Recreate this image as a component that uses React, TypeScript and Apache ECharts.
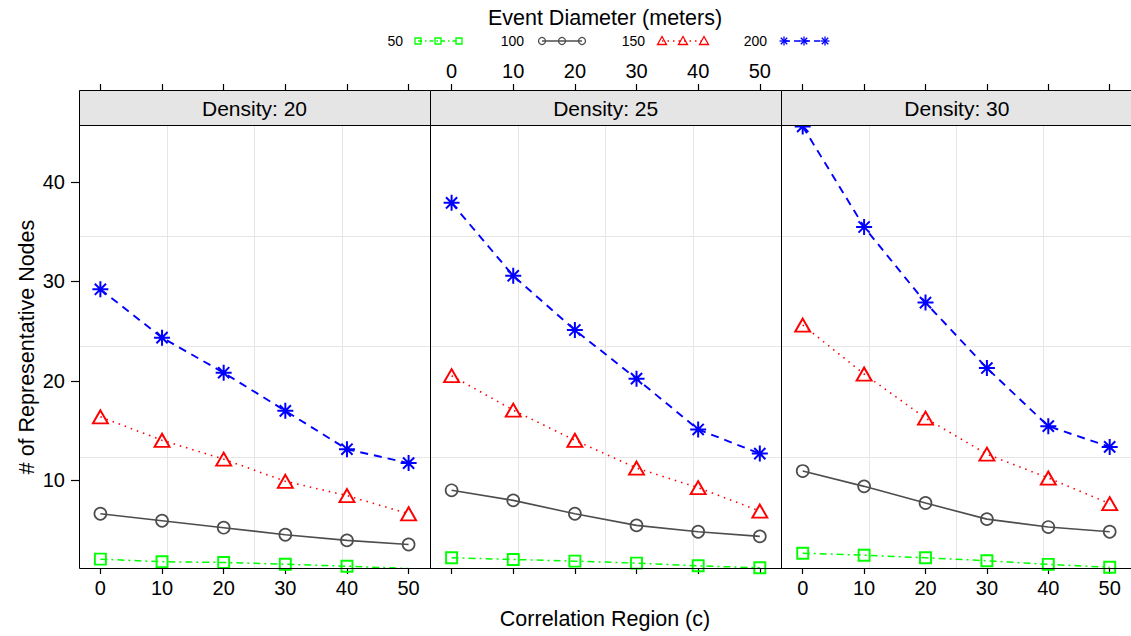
import React, { useEffect, useRef } from "react";
import * as echarts from "echarts";

// ---------- data ----------
const categories = [0, 10, 20, 30, 40, 50];
const yTicks = [10, 20, 30, 40];
const panelLabels = ["Density: 20", "Density: 25", "Density: 30"];
const seriesNames = ["50", "100", "150", "200"];

const d20_50 = [2.03, 1.77, 1.7, 1.52, 1.32, 1.09];
const d20_100 = [6.6, 5.9, 5.2, 4.49, 3.92, 3.51];
const d20_150 = [16.36, 14.0, 12.1, 9.87, 8.43, 6.6];
const d20_200 = [29.2, 24.33, 20.8, 16.96, 13.1, 11.7];

const d25_50 = [2.17, 2.0, 1.83, 1.63, 1.36, 1.16];
const d25_100 = [8.96, 7.95, 6.6, 5.43, 4.79, 4.32];
const d25_150 = [20.5, 17.03, 14.0, 11.2, 9.23, 6.87];
const d25_200 = [37.9, 30.56, 25.1, 20.2, 15.09, 12.66];

const d30_50 = [2.63, 2.43, 2.17, 1.87, 1.5, 1.22];
const d30_100 = [10.9, 9.36, 7.68, 6.06, 5.26, 4.79];
const d30_150 = [25.6, 20.67, 16.23, 12.6, 10.2, 7.62];
const d30_200 = [45.6, 35.47, 27.86, 21.27, 15.42, 13.33];

const panelData = [
  [d20_50, d20_100, d20_150, d20_200],
  [d25_50, d25_100, d25_150, d25_200],
  [d30_50, d30_100, d30_150, d30_200],
];

// ---------- styles / layout ----------
const FONT = "'Liberation Sans', Arial, Helvetica, sans-serif";
const XMIN = -3.47;
const XMAX = 53.47;
const YMIN = 1.14;
const YMAX = 45.74;
const PANEL_LEFT = 79;
const PANEL_W = 351.2;
const PANEL_TOP = 125;
const PANEL_H = 443;
const STRIP_H = 35;

const ASTER = "path://M0,5L10,5M5,0L5,10M1.5,1.5L8.5,8.5M8.5,1.5L1.5,8.5";

const styles = [
  { color: "#00ff00", symbol: "rect", size: 11, dash: [7, 4, 2, 4], width: 1.5, bw: 1.9 },
  { color: "#4d4d4d", symbol: "circle", size: 12, dash: "solid", width: 1.6, bw: 1.7 },
  { color: "#ff0000", symbol: "triangle", size: [15, 13], dash: [1.5, 5], width: 1.6, bw: 1.9 },
  { color: "#0000ff", symbol: ASTER, size: 16, dash: [8, 6], width: 1.9, bw: 2 },
];

function legendGraphics() {
  const items = [
    { tx: 403, sym: [418, 438, 459] },
    { tx: 524, sym: [542, 562, 582] },
    { tx: 645, sym: [662, 683, 704] },
    { tx: 767, sym: [784, 804, 825] },
  ];
  const ly = 41;
  const dashes: any[] = [[4, 3, 1.5, 3], null, [1.5, 4], [6, 4]];
  const els: any[] = [];
  items.forEach((it, j) => {
    const st = styles[j];
    els.push({
      type: "text",
      x: it.tx,
      y: ly,
      style: { text: seriesNames[j], fontSize: 14, fontFamily: FONT, fill: "#000", align: "right", verticalAlign: "middle" },
    });
    els.push({
      type: "line",
      shape: { x1: it.sym[0], y1: ly, x2: it.sym[2], y2: ly },
      style: { stroke: st.color, lineWidth: 1.3, lineDash: dashes[j] || undefined },
    });
    it.sym.forEach((sx) => {
      if (j === 0) {
        els.push({ type: "rect", shape: { x: sx - 3, y: ly - 3, width: 6, height: 6 }, style: { fill: "none", stroke: st.color, lineWidth: 1.3 } });
      } else if (j === 1) {
        els.push({ type: "circle", shape: { cx: sx, cy: ly, r: 3.5 }, style: { fill: "none", stroke: st.color, lineWidth: 1.3 } });
      } else if (j === 2) {
        els.push({ type: "polygon", shape: { points: [[sx, ly - 4.5], [sx + 4.5, ly + 3.5], [sx - 4.5, ly + 3.5]] }, style: { fill: "none", stroke: st.color, lineWidth: 1.3 } });
      } else {
        const r = 4.5;
        const q = 3.2;
        [[-r, 0, r, 0], [0, -r, 0, r], [-q, -q, q, q], [q, -q, -q, q]].forEach((s) => {
          els.push({ type: "line", shape: { x1: sx + s[0], y1: ly + s[1], x2: sx + s[2], y2: ly + s[3] }, style: { stroke: st.color, lineWidth: 1.3 } });
        });
      }
    });
  });
  return els;
}

function buildOption() {
  const grid: any[] = [];
  const xAxis: any[] = [];
  const yAxis: any[] = [];
  const series: any[] = [];
  const graphic: any[] = [];

  const tickStyle = { color: "#000", width: 1.2 };
  const labelStyle = { fontSize: 20, color: "#000", fontFamily: FONT };
  const noLine = { show: false, onZero: false };

  panelLabels.forEach((lab, i) => {
    const left = PANEL_LEFT + i * PANEL_W;
    grid.push({ left, top: PANEL_TOP, width: 351, height: PANEL_H, containLabel: false, show: false });

    xAxis.push({
      gridIndex: i, type: "value", min: XMIN, max: XMAX, position: "bottom",
      axisLine: noLine,
      axisTick: { show: true, length: 6, customValues: categories, lineStyle: tickStyle },
      axisLabel: { show: i !== 1, customValues: categories, margin: 10, ...labelStyle },
      splitLine: { show: false },
    });
    xAxis.push({
      gridIndex: i, type: "value", min: XMIN, max: XMAX, position: "top", offset: STRIP_H,
      axisLine: noLine,
      axisTick: { show: true, length: 6, customValues: categories, lineStyle: tickStyle },
      axisLabel: { show: i === 1, customValues: categories, margin: 9, ...labelStyle },
      splitLine: { show: false },
    });
    xAxis.push({
      gridIndex: i, type: "value", min: 0, max: 4, interval: 1, position: "bottom",
      axisLine: noLine, axisTick: { show: false }, axisLabel: { show: false },
      splitLine: { show: true, showMinLine: false, showMaxLine: false, lineStyle: { color: "#e6e6e6", width: 1 } },
    });

    yAxis.push({
      gridIndex: i, type: "value", min: YMIN, max: YMAX, show: i === 0, position: "left",
      axisLine: noLine,
      axisTick: { show: false },
      axisLabel: { customValues: yTicks, margin: 14, ...labelStyle },
      splitLine: { show: false },
    });
    yAxis.push({
      gridIndex: i, type: "value", min: 0, max: 4, interval: 1, position: "right",
      axisLine: noLine, axisTick: { show: false }, axisLabel: { show: false },
      splitLine: { show: true, showMinLine: false, showMaxLine: false, lineStyle: { color: "#e6e6e6", width: 1 } },
    });

    panelData[i].forEach((vals, j) => {
      const st = styles[j];
      series.push({
        type: "line",
        name: seriesNames[j],
        xAxisIndex: 3 * i,
        yAxisIndex: 2 * i,
        data: categories.map((c, k) => [c, vals[k]]),
        symbol: st.symbol,
        symbolSize: st.size,
        showAllSymbol: true,
        lineStyle: { color: st.color, width: st.width, type: st.dash },
        itemStyle: { color: "none", borderColor: st.color, borderWidth: st.bw },
        emphasis: { disabled: true },
        z: 3 + j,
      });
    });

    graphic.push({
      type: "rect", z: 50,
      shape: { x: Math.round(left) + 0.5, y: 90.5, width: 351, height: STRIP_H },
      style: { fill: "#e5e5e5", stroke: "#000", lineWidth: 1 },
    });
    graphic.push({
      type: "text", z: 51,
      x: left + 175.5, y: 90 + STRIP_H / 2 + 1,
      style: { text: lab, fontSize: 21, fontFamily: FONT, fill: "#000", align: "center", verticalAlign: "middle" },
    });
    graphic.push({
      type: "rect", z: 100,
      shape: { x: Math.round(left) + 0.5, y: PANEL_TOP + 0.5, width: 351, height: PANEL_H },
      style: { fill: "none", stroke: "#000", lineWidth: 1 },
    });
  });

  graphic.push({
    type: "text", x: 605, y: 18,
    style: { text: "Event Diameter (meters)", fontSize: 21.5, fontFamily: FONT, fill: "#000", align: "center", verticalAlign: "middle" },
  });
  graphic.push({
    type: "text", x: 605, y: 619,
    style: { text: "Correlation Region (c)", fontSize: 21.5, fontFamily: FONT, fill: "#000", align: "center", verticalAlign: "middle" },
  });
  graphic.push({
    type: "text", x: 27, y: 347, rotation: Math.PI / 2,
    style: { text: "# of Representative Nodes", fontSize: 21.5, fontFamily: FONT, fill: "#000", align: "center", verticalAlign: "middle" },
  });
  legendGraphics().forEach((e) => graphic.push(e));

  return {
    animation: false,
    backgroundColor: "#ffffff",
    textStyle: { fontFamily: FONT },
    grid,
    xAxis,
    yAxis,
    series,
    graphic,
  };
}

export default function App() {
  const ref = useRef<HTMLDivElement>(null);
  useEffect(() => {
    if (!ref.current) return;
    const chart = echarts.init(ref.current, undefined, { renderer: "svg" });
    const option: any = buildOption();
    chart.setOption(option);
    // y-axis tick marks placed through the axis scale
    const tickEls = yTicks.map((v) => {
      let py = Number(chart.convertToPixel({ yAxisIndex: 0 } as any, v));
      if (!isFinite(py)) {
        py = PANEL_TOP + PANEL_H - ((v - YMIN) / (YMAX - YMIN)) * PANEL_H;
      }
      const y = Math.round(py) + 0.5;
      return {
        type: "line",
        z: 100,
        shape: { x1: PANEL_LEFT - 8, y1: y, x2: PANEL_LEFT + 0.5, y2: y },
        style: { stroke: "#000000", lineWidth: 1.2 },
      };
    });
    chart.setOption({ graphic: option.graphic.concat(tickEls) }, { replaceMerge: ["graphic"] } as any);
    return () => chart.dispose();
  }, []);
  return (
    <div
      ref={ref}
      style={{ position: "absolute", left: 0, top: 0, width: 1131, height: 636, background: "#fff" }}
    />
  );
}
